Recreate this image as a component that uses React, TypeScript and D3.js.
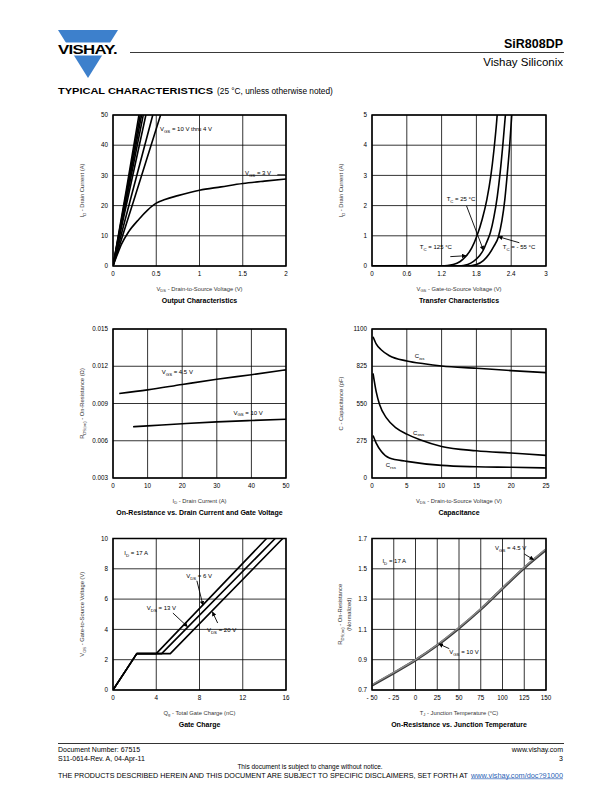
import React from 'react'
import * as d3 from 'd3'

const FONT = '"Liberation Sans", Arial, Helvetica, sans-serif'

// ---- Output characteristics (VDS, ID)
const outXTicks = [0, 0.5, 1, 1.5, 2]
const outXLabels = ['0', '0.5', '1', '1.5', '2']
const outYTicks = [0, 10, 20, 30, 40, 50]
const outVgs10 = [[0, 0], [0.15, 24.5], [0.3, 50]]
const outVgs9 = [[0, 0], [0.157, 24.5], [0.315, 50]]
const outVgs8 = [[0, 0], [0.164, 24.5], [0.33, 50]]
const outVgs7 = [[0, 0], [0.173, 24.5], [0.35, 50]]
const outVgs6 = [[0, 0], [0.187, 24.5], [0.38, 50]]
const outVgs5 = [[0, 0], [0.22, 24], [0.46, 50]]
const outVgs4 = [[0, 0], [0.26, 23.5], [0.55, 50]]
const outVgs3 = [[0, 0], [0.05, 3.8], [0.1, 7.3], [0.18, 11.3], [0.3, 15.5], [0.4, 18.5], [0.5, 20.8], [0.6, 22], [0.75, 23.3], [1, 25.1], [1.25, 26.2], [1.5, 27.3], [1.75, 28.1], [2, 28.8]]

// ---- Transfer characteristics (VGS, ID)
const trXTicks = [0, 0.6, 1.2, 1.8, 2.4, 3]
const trXLabels = ['0', '0.6', '1.2', '1.8', '2.4', '3']
const trYTicks = [0, 1, 2, 3, 4, 5]
const tr125 = [[0, 0], [1.2, 0], [1.4, 0.05], [1.52, 0.15], [1.62, 0.32], [1.72, 0.6], [1.81, 1], [1.9, 1.55], [1.98, 2.2], [2.05, 3], [2.1, 3.8], [2.15, 4.8], [2.17, 5.3]]
const tr25 = [[0, 0], [1.5, 0], [1.65, 0.05], [1.75, 0.15], [1.85, 0.33], [1.92, 0.53], [1.98, 0.8], [2.04, 1.1], [2.1, 1.6], [2.16, 2.3], [2.21, 3.1], [2.26, 4.1], [2.3, 5], [2.32, 5.5]]
const trM55 = [[0, 0], [1.65, 0], [1.8, 0.05], [1.92, 0.18], [2.02, 0.4], [2.1, 0.65], [2.18, 0.97], [2.24, 1.5], [2.29, 2.2], [2.33, 3], [2.37, 3.9], [2.41, 5], [2.43, 5.5]]

// ---- On-resistance vs drain current (ID, RDS)
const ridXTicks = [0, 10, 20, 30, 40, 50]
const ridYTicks = [0.003, 0.006, 0.009, 0.012, 0.015]
const ridYLabels = ['0.003', '0.006', '0.009', '0.012', '0.015']
const rds45 = [[1.8, 0.0098], [10, 0.0101], [20, 0.01053], [30, 0.01095], [40, 0.01132], [50, 0.01171]]
const rds10 = [[5.8, 0.00713], [10, 0.0072], [20, 0.00737], [30, 0.00752], [40, 0.00763], [50, 0.00773]]

// ---- Capacitance (VDS, pF)
const capXTicks = [0, 5, 10, 15, 20, 25]
const capYTicks = [0, 275, 550, 825, 1100]
const ciss = [[0.15, 1043], [0.6, 990], [1.35, 945], [2.5, 903], [5, 864], [7.5, 843], [10, 827], [15, 810], [20, 793], [25, 778]]
const coss = [[0.15, 773], [0.6, 638], [1.1, 540], [2.1, 442], [3.5, 368], [5, 324], [6.9, 282], [10, 233], [15, 201], [20, 184], [25, 167]]
const crss = [[0.15, 314], [0.6, 258], [1.35, 196], [2.5, 147], [5, 123], [10, 93], [15, 83], [20, 79], [25, 74]]

// ---- Gate charge (Qg, VGS)
const gcXTicks = [0, 4, 8, 12, 16]
const gcYTicks = [0, 2, 4, 6, 8, 10]
const gc6 = [[0, 0], [2.2, 2.4], [4.0, 2.4], [14.2, 10]]
const gc13 = [[0, 0], [2.2, 2.4], [4.5, 2.4], [15.0, 10]]
const gc20 = [[0, 0], [2.2, 2.4], [5.3, 2.4], [15.7, 10]]

// ---- On-resistance vs junction temperature (TJ, normalized)
const rtXTicks = [-50, -25, 0, 25, 50, 75, 100, 125, 150]
const rtXLabels = ['- 50', '- 25', '0', '25', '50', '75', '100', '125', '150']
const rtYTicks = [0.7, 0.9, 1.1, 1.3, 1.5, 1.7]
const rtYLabels = ['0.7', '0.9', '1.1', '1.3', '1.5', '1.7']
const rdsT10 = [[-50, 0.73], [-25, 0.812], [0, 0.897], [25, 0.995], [50, 1.108], [75, 1.232], [100, 1.37], [125, 1.505], [150, 1.625]]
const rdsT45 = [[-50, 0.735], [-25, 0.816], [0, 0.9], [25, 0.999], [50, 1.112], [75, 1.236], [100, 1.374], [125, 1.51], [150, 1.632]]

// text with {sub} parts as subscripts
const rich = (s: string, size: number) => {
  const parts = s.split(/(\{[^}]*\})/).filter((p) => p !== '')
  let shifted = false
  return parts.map((p, i) => {
    if (p.startsWith('{')) {
      shifted = true
      return <tspan key={i} fontSize={size * 0.72} dy={size * 0.28}>{p.slice(1, -1)}</tspan>
    }
    const dy = shifted ? -size * 0.28 : undefined
    shifted = false
    return <tspan key={i} dy={dy}>{p}</tspan>
  })
}

type Label = { x: number; y: number; text: string }
type Arrow = { from: number[]; to: number[]; head?: boolean }
type Series = { pts: number[][]; color?: string; width?: number }

interface PanelProps {
  id: string
  box: number[]
  xDom: number[]
  yDom: number[]
  xTicks: number[]
  xLabels?: string[]
  yTicks: number[]
  yLabels?: string[]
  series: Series[]
  curve?: d3.CurveFactory
  labels?: Label[]
  arrows?: Arrow[]
  xTitle: string
  yTitle: string[]
  title: string
}

const Panel = (p: PanelProps) => {
  const [l, t, r, b] = p.box
  const x = d3.scaleLinear().domain(p.xDom).range([l, r])
  const y = d3.scaleLinear().domain(p.yDom).range([b, t])
  const line = d3
    .line<number[]>()
    .x((d) => x(d[0]))
    .y((d) => y(d[1]))
    .curve(p.curve ?? d3.curveMonotoneX)
  const cx = (l + r) / 2
  const cy = (t + b) / 2
  const n = p.yTitle.length
  return (
    <g fontFamily={FONT}>
      <defs>
        <clipPath id={'clip-' + p.id}>
          <rect x={l} y={t} width={r - l} height={b - t} />
        </clipPath>
      </defs>
      {p.xTicks.map((v, i) => (
        <line key={'gx' + i} x1={x(v)} x2={x(v)} y1={t} y2={b} stroke="#000" strokeWidth={0.8} />
      ))}
      {p.yTicks.map((v, i) => (
        <line key={'gy' + i} x1={l} x2={r} y1={y(v)} y2={y(v)} stroke="#000" strokeWidth={0.8} />
      ))}
      <g clipPath={`url(#clip-${p.id})`}>
        {p.series.map((s, i) => (
          <path key={i} d={line(s.pts) ?? ''} fill="none" stroke={s.color ?? '#000'} strokeWidth={s.width ?? 1.6} strokeLinejoin="round" />
        ))}
      </g>
      <rect x={l} y={t} width={r - l} height={b - t} fill="none" stroke="#000" strokeWidth={1.5} />
      {p.xTicks.map((v, i) => (
        <text key={'tx' + i} x={x(v)} y={b + 9.5} fontSize={6.3} textAnchor="middle">
          {p.xLabels ? p.xLabels[i] : String(v)}
        </text>
      ))}
      {p.yTicks.map((v, i) => (
        <text key={'ty' + i} x={l - 5} y={y(v) + 2.2} fontSize={6.3} textAnchor="end">
          {p.yLabels ? p.yLabels[i] : String(v)}
        </text>
      ))}
      {(p.labels ?? []).map((lb, i) => (
        <text key={'lb' + i} x={x(lb.x)} y={y(lb.y)} fontSize={6}>
          {rich(lb.text, 6)}
        </text>
      ))}
      {(p.arrows ?? []).map((a, i) => (
        <line
          key={'ar' + i}
          x1={x(a.from[0])}
          y1={y(a.from[1])}
          x2={x(a.to[0])}
          y2={y(a.to[1])}
          stroke="#000"
          strokeWidth={0.9}
          markerEnd={a.head === false ? undefined : 'url(#arrowhead)'}
        />
      ))}
      <text x={cx} y={b + 24.5} fontSize={5.8} fill="#333" textAnchor="middle">
        {rich(p.xTitle, 5.8)}
      </text>
      {p.yTitle.map((s, i) => (
        <text key={'yt' + i} transform={`translate(${l - 29 + i * 9 - (n - 1) * 1},${cy}) rotate(-90)`} fontSize={5.8} fill="#333" textAnchor="middle">
          {rich(s, 5.8)}
        </text>
      ))}
      <text x={cx} y={b + 37} fontSize={7} fontWeight="bold" textAnchor="middle">
        {p.title}
      </text>
    </g>
  )
}

const App = () => {
  return (
    <svg width={612} height={792} viewBox="0 0 612 792" style={{ position: 'absolute', left: 0, top: 0, background: '#fff' }}>
      <defs>
        <marker id="arrowhead" viewBox="0 0 10 10" refX="9" refY="5" markerWidth="5" markerHeight="4.5" markerUnits="userSpaceOnUse" orient="auto">
          <path d="M0,0L10,5L0,10z" fill="#000" />
        </marker>
      </defs>
      <rect width={612} height={792} fill="#fff" />

      {/* header */}
      <polygon points="58,30 118,30 88,78" fill="#3d80cc" />
      <rect x={56} y={42.5} width={66} height={13} fill="#fff" />
      <text x={58} y={53.5} fontFamily={FONT} fontSize={12.5} fontWeight="bold" textLength={59} lengthAdjust="spacingAndGlyphs" letterSpacing={-0.5}>
        VISHAY.
      </text>
      <line x1={130} x2={564} y1={52.5} y2={52.5} stroke="#222" strokeWidth={0.9} />
      <text x={563} y={48} fontFamily={FONT} fontSize={12.5} fontWeight="bold" textAnchor="end">SiR808DP</text>
      <text x={563} y={66} fontFamily={FONT} fontSize={11.5} textAnchor="end">Vishay Siliconix</text>
      <text x={58} y={94} fontFamily={FONT} fontSize={9.5} fontWeight="bold" textLength={155} lengthAdjust="spacingAndGlyphs">
        TYPICAL CHARACTERISTICS
      </text>
      <text x={217} y={94} fontFamily={FONT} fontSize={8.3}>(25 °C, unless otherwise noted)</text>

      <Panel
        id="out"
        box={[113, 115, 286, 266]}
        xDom={[0, 2]}
        yDom={[0, 50]}
        xTicks={outXTicks}
        xLabels={outXLabels}
        yTicks={outYTicks}
        series={[outVgs10, outVgs9, outVgs8, outVgs7, outVgs6, outVgs5, outVgs4, outVgs3].map((pts) => ({ pts }))}
        labels={[
          { x: 0.543, y: 44.7, text: 'V{GS} = 10 V thru 4 V' },
          { x: 1.526, y: 30.1, text: 'V{GS} = 3 V' },
        ]}
        arrows={[{ from: [1.9, 30.2], to: [1.99, 30.2], head: false }]}
        xTitle="V{DS} - Drain-to-Source Voltage (V)"
        yTitle={['I{D} - Drain Current (A)']}
        title="Output Characteristics"
      />

      <Panel
        id="tr"
        box={[372, 115, 546, 266]}
        xDom={[0, 3]}
        yDom={[0, 5]}
        xTicks={trXTicks}
        xLabels={trXLabels}
        yTicks={trYTicks}
        series={[tr125, tr25, trM55].map((pts) => ({ pts }))}
        curve={d3.curveMonotoneX}
        labels={[
          { x: 1.287, y: 2.14, text: 'T{C} = 25 °C' },
          { x: 0.825, y: 0.56, text: 'T{C} = 125 °C' },
          { x: 2.256, y: 0.56, text: 'T{C} = - 55 °C' },
        ]}
        arrows={[
          { from: [1.63, 1.99], to: [1.92, 0.53] },
          { from: [1.35, 0.31], to: [1.62, 0.34] },
          { from: [2.54, 0.77], to: [2.18, 0.97] },
        ]}
        xTitle="V{GS} - Gate-to-Source Voltage (V)"
        yTitle={['I{D} - Drain Current (A)']}
        title="Transfer Characteristics"
      />

      <Panel
        id="rid"
        box={[113, 329, 286, 478]}
        xDom={[0, 50]}
        yDom={[0.003, 0.015]}
        xTicks={ridXTicks}
        yTicks={ridYTicks}
        yLabels={ridYLabels}
        series={[rds45, rds10].map((pts) => ({ pts }))}
        labels={[
          { x: 14.1, y: 0.01134, text: 'V{GS} = 4.5 V' },
          { x: 34.8, y: 0.00811, text: 'V{GS} = 10 V' },
        ]}
        xTitle="I{D} - Drain Current (A)"
        yTitle={['R{DS(on)} - On-Resistance (Ω)']}
        title="On-Resistance vs. Drain Current and Gate Voltage"
      />

      <Panel
        id="cap"
        box={[372, 329, 546, 478]}
        xDom={[0, 25]}
        yDom={[0, 1100]}
        xTicks={capXTicks}
        yTicks={capYTicks}
        series={[ciss, coss, crss].map((pts) => ({ pts }))}
        labels={[
          { x: 6.15, y: 886, text: 'C{iss}' },
          { x: 5.9, y: 321, text: 'C{oss}' },
          { x: 1.97, y: 81, text: 'C{rss}' },
        ]}
        xTitle="V{DS} - Drain-to-Source Voltage (V)"
        yTitle={['C - Capacitance (pF)']}
        title="Capacitance"
      />

      <Panel
        id="gc"
        box={[113, 538.5, 286, 690]}
        xDom={[0, 16]}
        yDom={[0, 10]}
        xTicks={gcXTicks}
        yTicks={gcYTicks}
        series={[gc6, gc13, gc20].map((pts) => ({ pts }))}
        curve={d3.curveLinear}
        labels={[
          { x: 1.05, y: 8.91, text: 'I{D} = 17 A' },
          { x: 6.77, y: 7.36, text: 'V{DS} = 6 V' },
          { x: 3.13, y: 5.28, text: 'V{DS} = 13 V' },
          { x: 8.69, y: 3.83, text: 'V{DS} = 20 V' },
        ]}
        arrows={[
          { from: [7.76, 7.21], to: [8.32, 5.6] },
          { from: [5.54, 5.08], to: [6.89, 4.18] },
          { from: [9.68, 4.42], to: [9.2, 5.15] },
        ]}
        xTitle="Q{g} - Total Gate Charge (nC)"
        yTitle={['V{GS} - Gate-to-Source Voltage (V)']}
        title="Gate Charge"
      />

      <Panel
        id="rt"
        box={[372, 538.5, 546, 690]}
        xDom={[-50, 150]}
        yDom={[0.7, 1.7]}
        xTicks={rtXTicks}
        xLabels={rtXLabels}
        yTicks={rtYTicks}
        yLabels={rtYLabels}
        series={[
          { pts: rdsT10, color: '#3a3a3a', width: 2.6 },
          { pts: rdsT45, color: '#8a8a8a', width: 1.4 },
        ]}
        labels={[
          { x: -38, y: 1.535, text: 'I{D} = 17 A' },
          { x: 91.5, y: 1.624, text: 'V{GS} = 4.5 V' },
          { x: 38.8, y: 0.938, text: 'V{GS} = 10 V' },
        ]}
        arrows={[
          { from: [125, 1.598], to: [135.7, 1.56] },
          { from: [38.8, 0.973], to: [26.9, 1.004] },
        ]}
        xTitle="T{J} - Junction Temperature (°C)"
        yTitle={['R{DS(on)} - On-Resistance', '(Normalized)']}
        title="On-Resistance vs. Junction Temperature"
      />

      {/* footer */}
      <g fontFamily={FONT}>
        <line x1={58} x2={564} y1={743.5} y2={743.5} stroke="#000" strokeWidth={0.8} />
        <text x={58} y={752} fontSize={7}>Document Number: 67515</text>
        <text x={58} y={761} fontSize={7}>S11-0614-Rev. A, 04-Apr-11</text>
        <text x={563} y={752} fontSize={7} textAnchor="end">www.vishay.com</text>
        <text x={563} y={761} fontSize={7} textAnchor="end">3</text>
        <text x={310} y={768.5} fontSize={6.5} textAnchor="middle">This document is subject to change without notice.</text>
        <text x={58} y={777.5} fontSize={6.5} textLength={410} lengthAdjust="spacingAndGlyphs">
          THE PRODUCTS DESCRIBED HEREIN AND THIS DOCUMENT ARE SUBJECT TO SPECIFIC DISCLAIMERS, SET FORTH AT
        </text>
        <text x={471} y={777.5} fontSize={6.5} fill="#2b5fb5" textDecoration="underline" textLength={92} lengthAdjust="spacingAndGlyphs">
          www.vishay.com/doc?91000
        </text>
      </g>
    </svg>
  )
}

export default App
